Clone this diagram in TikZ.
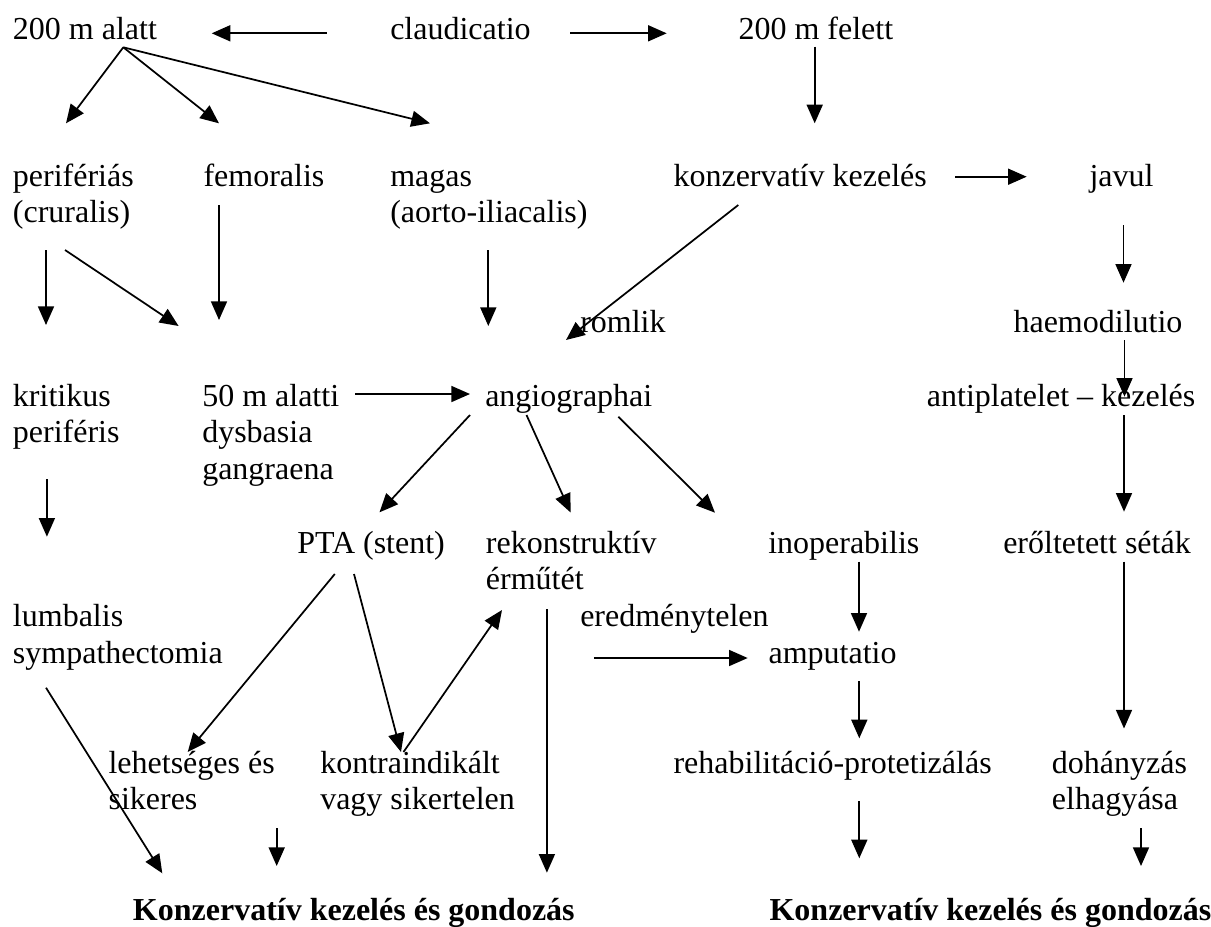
\documentclass[tikz,border=0pt]{standalone}
\usepackage{fontspec}
\setmainfont{Liberation Serif}
\usetikzlibrary{arrows.meta}
\newcommand{\twol}[2]{\begin{tabular}[t]{@{}l@{}}#1\\#2\end{tabular}}
\newcommand{\threel}[3]{\begin{tabular}[t]{@{}l@{}}#1\\#2\\#3\end{tabular}}
\begin{document}
\begin{tikzpicture}[x=0.75pt,y=-0.75pt,
  lbl/.style={anchor=base west,inner sep=0pt,font=\fontsize{24}{27.5}\selectfont},
  blbl/.style={lbl,font=\fontsize{24}{27.5}\selectfont\bfseries},
  ar/.style={line width=1.3pt,-{Triangle[length=14pt,width=12pt]}}]
\useasboundingbox (0,0) rectangle (1211,926);
\clip (0,0) rectangle (1211,926);
\fill[white] (0,0) rectangle (1211,926);
% texts
\node[lbl] (alatt)  at (12.7,39.3) {200 m alatt};
\node[lbl] (claud)  at (390,39.3) {claudicatio};
\node[lbl] (felett) at (738.3,39.3) {200 m felett};
\node[lbl] (perif)  at (12.7,186.1) {\twol{perifériás}{(cruralis)}};
\node[lbl] (femor)  at (203.3,186.1) {femoralis};
\node[lbl] (magas)  at (390,186.1) {\twol{magas}{(aorto-iliacalis)}};
\node[lbl] (konz)   at (673.3,186.1) {konzervatív kezelés};
\node[lbl] (javul)  at (1089.3,186.1) {javul};
\node[lbl] (romlik) at (580,332.9) {romlik};
\node[lbl] (haemo)  at (1013.3,332.9) {haemodilutio};
\node[lbl] (krit)   at (12.7,406.3) {\twol{kritikus}{periféris}};
\node[lbl] (m50)    at (202,406.3) {\threel{50 m alatti}{dysbasia}{gangraena}};
\node[lbl] (angio)  at (485,406.3) {angiographai};
\node[lbl] (antipl) at (926.7,406.3) {antiplatelet – kezelés};
\node[lbl] (pta)    at (297,553.1) {PTA (stent)};
\node[lbl] (rekon)  at (485.7,553.1) {\twol{rekonstruktív}{érműtét}};
\node[lbl] (inop)   at (768,553.1) {inoperabilis};
\node[lbl] (erolt)  at (1003,553.1) {erőltetett séták};
\node[lbl] (lumb)   at (12.7,626.5) {\twol{lumbalis}{sympathectomia}};
\node[lbl] (ered)   at (580,626.5) {eredménytelen};
\node[lbl] (amput)  at (768.3,663.2) {amputatio};
\node[lbl] (lehet)  at (108.3,773.3) {\twol{lehetséges és}{sikeres}};
\node[lbl] (kontra) at (320,773.3) {\twol{kontraindikált}{vagy sikertelen}};
\node[lbl] (rehab)  at (673.3,773.3) {rehabilitáció-protetizálás};
\node[lbl] (dohany) at (1051.7,773.3) {\twol{dohányzás}{elhagyása}};
\node[blbl] (endL)  at (132.7,920.1) {Konzervatív kezelés és gondozás};
\node[blbl] (endR)  at (769.3,920.1) {Konzervatív kezelés és gondozás};
% arrow end points
\coordinate (c1s) at (326.7,33.3);  \coordinate (c1e) at (211.7,33.3);
\coordinate (c2s) at (570,33.3);    \coordinate (c2e) at (666.7,33.3);
\coordinate (aO)  at (123.3,47.3);
\coordinate (a3e) at (66,123.3);
\coordinate (a4e) at (219,123.3);
\coordinate (a5e) at (430,123.3);
\coordinate (f6s) at (814.7,46.7);  \coordinate (f6e) at (814.7,123.3);
\coordinate (k7s) at (955,176.7);   \coordinate (k7e) at (1026.7,176.7);
\coordinate (j8s) at (1123.5,225);  \coordinate (j8e) at (1123.5,282.7);
\coordinate (p9s) at (46,250);      \coordinate (p9e) at (46,325);
\coordinate (p10s) at (65,250);     \coordinate (p10e) at (178.6,326);
\coordinate (f11s) at (219,205);    \coordinate (f11e) at (219,320);
\coordinate (m12s) at (488.3,250);  \coordinate (m12e) at (488.3,326);
\coordinate (k13s) at (738.3,205);  \coordinate (k13e) at (566,340);
\coordinate (h14s) at (1124.5,340); \coordinate (h14e) at (1124.5,396.7);
\coordinate (m15s) at (355,394);    \coordinate (m15e) at (470,394);
\coordinate (a16s) at (470,415);    \coordinate (a16e) at (379.5,512.3);
\coordinate (a17s) at (526.5,415);  \coordinate (a17e) at (570.6,512.5);
\coordinate (a18s) at (618.3,416.7);\coordinate (a18e) at (715,512.7);
\coordinate (t19s) at (1124,415);   \coordinate (t19e) at (1124,511.7);
\coordinate (k20s) at (46.9,479);   \coordinate (k20e) at (46.9,536.7);
\coordinate (i21s) at (859,561.7);  \coordinate (i21e) at (859,631.7);
\coordinate (e22s) at (1124,561.7); \coordinate (e22e) at (1124,728.5);
\coordinate (r23s) at (546.9,609.3);\coordinate (r23e) at (546.9,872.7);
\coordinate (p24s) at (334.8,574);  \coordinate (p24e) at (187.7,752);
\coordinate (p25s) at (354,574);    \coordinate (p25e) at (401,752);
\coordinate (k26s) at (403.5,752);  \coordinate (k26e) at (502,610);
\coordinate (e27s) at (593.8,658);  \coordinate (e27e) at (747.7,658);
\coordinate (a28s) at (859.3,681);  \coordinate (a28e) at (859.3,738.3);
\coordinate (l29s) at (46,687.7);   \coordinate (l29e) at (162.3,873.3);
\coordinate (l30s) at (276.7,828.3);\coordinate (l30e) at (276.7,866);
\coordinate (r32s) at (859.3,801);  \coordinate (r32e) at (859.3,858.3);
\coordinate (d33s) at (1141,828.3); \coordinate (d33e) at (1141,866);
% arrows
\draw[ar] (c1s) -- (c1e);
\draw[ar] (c2s) -- (c2e);
\draw[ar] (aO) -- (a3e);
\draw[ar] (aO) -- (a4e);
\draw[ar] (aO) -- (a5e);
\draw[ar] (f6s) -- (f6e);
\draw[ar] (k7s) -- (k7e);
\draw[ar] (j8s) -- (j8e);
\draw[ar] (p9s) -- (p9e);
\draw[ar] (p10s) -- (p10e);
\draw[ar] (f11s) -- (f11e);
\draw[ar] (m12s) -- (m12e);
\draw[ar] (k13s) -- (k13e);
\draw[ar] (h14s) -- (h14e);
\draw[ar] (m15s) -- (m15e);
\draw[ar] (a16s) -- (a16e);
\draw[ar] (a17s) -- (a17e);
\draw[ar] (a18s) -- (a18e);
\draw[ar] (t19s) -- (t19e);
\draw[ar] (k20s) -- (k20e);
\draw[ar] (i21s) -- (i21e);
\draw[ar] (e22s) -- (e22e);
\draw[ar] (r23s) -- (r23e);
\draw[ar] (p24s) -- (p24e);
\draw[ar] (p25s) -- (p25e);
\draw[ar] (k26s) -- (k26e);
\draw[ar] (e27s) -- (e27e);
\draw[ar] (a28s) -- (a28e);
\draw[ar] (l29s) -- (l29e);
\draw[ar] (l30s) -- (l30e);
\draw[ar] (r32s) -- (r32e);
\draw[ar] (d33s) -- (d33e);
\end{tikzpicture}
\end{document}
